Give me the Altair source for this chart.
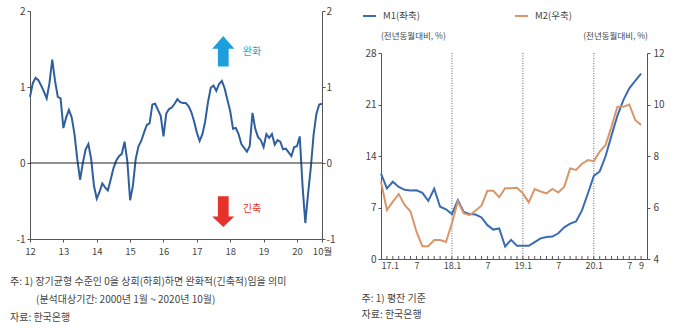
import altair as alt
import pandas as pd

FONT = "Noto Sans CJK KR"
TXT = "#444444"
AX = "#555555"

# ---------------- Left panel: index, monthly 2012.1 ~ 2020.10 ----------------
idx_values = [
    0.87, 1.05, 1.12, 1.09, 1.02, 0.94, 0.85, 1.05, 1.36, 1.08, 0.87, 0.85,
    0.46, 0.60, 0.70, 0.60, 0.38, 0.05, -0.22, 0.00, 0.18, 0.25, 0.05, -0.30,
    -0.47, -0.38, -0.27, -0.32, -0.36, -0.22, -0.07, 0.03, 0.09, 0.12, 0.28, 0.02,
    -0.49, -0.30, 0.05, 0.22, 0.29, 0.40, 0.50, 0.52, 0.77, 0.78, 0.70, 0.62,
    0.35, 0.65, 0.71, 0.73, 0.78, 0.84, 0.80, 0.79, 0.79, 0.75, 0.67, 0.55,
    0.40, 0.29, 0.38, 0.55, 0.80, 0.99, 1.02, 0.95, 1.04, 1.08, 0.98, 0.83,
    0.68, 0.45, 0.46, 0.38, 0.25, 0.20, 0.15, 0.22, 0.66, 0.45, 0.34, 0.30,
    0.21, 0.38, 0.33, 0.38, 0.24, 0.30, 0.28, 0.18, 0.19, 0.14, 0.09, 0.21,
    0.22, 0.35, -0.30, -0.79, -0.40, -0.05, 0.38, 0.65, 0.77, 0.78,
]
idx_tick_pos = [0, 12, 24, 36, 48, 60, 72, 84, 96, 105]
idx_tick_labels = ["12", "13", "14", "15", "16", "17", "18", "19", "20", "10월"]
idx_y_ticks = [-1, 0, 1, 2]
up_label, down_label = "완화", "긴축"
arrow_x = 69.5
up_arrow_y, down_arrow_y = 1.47, -0.64
label_x = 76.5
up_label_y, down_label_y = 1.46, -0.61
notes_left = [
    "주: 1) 장기균형 수준인 0을 상회(하회)하면 완화적(긴축적)임을 의미",
    "(분석대상기간: 2000년 1월 ~ 2020년 10월)",
    "자료: 한국은행",
]

# ---------------- Right panel: M1 / M2, monthly 2017.1 ~ 2020.9 ----------------
m1_values = [
    11.6, 9.6, 10.5, 9.8, 9.4, 9.3, 9.35, 9.0, 7.9, 9.55, 7.1, 6.75,
    6.1, 8.0, 6.4, 6.1, 6.05, 5.65, 4.6, 4.0, 4.15, 1.7, 2.6, 1.8,
    1.8, 1.8, 2.3, 2.8, 3.0, 3.05, 3.5, 4.3, 4.8, 5.1, 6.6, 8.9,
    11.3, 11.9, 14.0, 16.8, 19.5, 21.6, 23.2, 24.2, 25.2,
]
m2_values = [
    7.0, 5.9, 6.23, 6.52, 6.1, 5.84, 5.06, 4.5, 4.5, 4.74, 4.74, 4.66,
    5.39, 6.23, 5.77, 5.7, 5.88, 6.07, 6.65, 6.65, 6.4, 6.75, 6.75, 6.77,
    6.55, 6.2, 6.72, 6.62, 6.55, 6.72, 6.58, 6.81, 7.52, 7.46, 7.7, 7.84,
    7.8, 8.17, 8.43, 9.14, 9.91, 9.91, 10.0, 9.4, 9.2,
]
money_tick_pos = [0, 6, 12, 18, 24, 30, 36, 42, 44]
money_tick_labels = ["17.1", "7", "18.1", "7", "19.1", "7", "20.1", "7", "9"]
year_breaks = [12, 24, 36]
m1_ticks = [0, 7, 14, 21, 28]
m2_ticks = [4, 6, 8, 10, 12]
series_names = ["M1(좌축)", "M2(우축)"]
axis_unit = "(전년동월대비, %)"
notes_right = ["주: 1) 평잔 기준", "자료: 한국은행"]

C_IDX = "#2f5f9c"
C_M1 = "#3a6cb3"
C_M2 = "#d8976a"
C_UP = "#1c9fdc"
C_DOWN = "#e6322a"


def label_expr(pos, labels):
    expr = "''"
    for p, l in reversed(list(zip(pos, labels))):
        expr = f"datum.value == {p} ? '{l}' : ({expr})"
    return expr


def text_layer(text, x, y, size=10, color=TXT, align="left"):
    return alt.Chart(pd.DataFrame({"t": [text]})).mark_text(
        align=align, baseline="middle", font=FONT, fontSize=size, color=color
    ).encode(text="t:N", x=alt.value(x), y=alt.value(y))


# ======================= LEFT PANEL =======================
W1, H1 = 292, 228
df_idx = pd.DataFrame({"i": list(range(len(idx_values))), "v": idx_values})

x_l = alt.X(
    "i:Q",
    scale=alt.Scale(domain=[0, 105], nice=False, zero=False),
    axis=alt.Axis(
        values=idx_tick_pos, labelExpr=label_expr(idx_tick_pos, idx_tick_labels),
        title=None, grid=False, domainColor=AX, tickColor=AX, tickSize=3,
        labelFont=FONT, labelFontSize=9.5, labelColor=TXT, labelPadding=4.5,
        labelOverlap=False, labelFlush=False,
    ),
)
yl_scale = alt.Scale(domain=[-1, 2], nice=False, zero=False)


def y_axis(orient, pad, values):
    return alt.Axis(
        orient=orient, values=values, title=None, grid=False,
        domainColor=AX, tickColor=AX, tickSize=3, labelExpr="toString(datum.value)",
        labelFont=FONT, labelFontSize=10, labelColor=TXT, labelPadding=pad,
        labelOverlap=False,
    )


y_l = alt.Y("v:Q", scale=yl_scale, axis=y_axis("left", 2, idx_y_ticks))

idx_line = alt.Chart(df_idx).mark_line(color=C_IDX, strokeWidth=2).encode(x=x_l, y=y_l)

UP_PATH = "M -0.34 0.97 L -0.34 -0.16 L -0.7 -0.16 L 0 -0.97 L 0.7 -0.16 L 0.34 -0.16 L 0.34 0.97 Z"
DOWN_PATH = "M -0.34 -0.97 L -0.34 0.3 L -0.7 0.3 L 0 0.97 L 0.7 0.3 L 0.34 0.3 L 0.34 -0.97 Z"

up_arrow = alt.Chart(pd.DataFrame({"i": [arrow_x], "v": [up_arrow_y]})).mark_point(
    shape=UP_PATH, size=1000, filled=True, color=C_UP, opacity=1, strokeWidth=0
).encode(x=x_l, y=y_l)
down_arrow = alt.Chart(pd.DataFrame({"i": [arrow_x], "v": [down_arrow_y]})).mark_point(
    shape=DOWN_PATH, size=1000, filled=True, color=C_DOWN, opacity=1, strokeWidth=0
).encode(x=x_l, y=y_l)
up_text = alt.Chart(pd.DataFrame({"i": [label_x], "v": [up_label_y], "t": [up_label]})).mark_text(
    align="left", baseline="middle", font=FONT, fontSize=10, color=C_UP
).encode(x=x_l, y=y_l, text="t:N")
down_text = alt.Chart(pd.DataFrame({"i": [label_x], "v": [down_label_y], "t": [down_label]})).mark_text(
    align="left", baseline="middle", font=FONT, fontSize=10, color=C_DOWN
).encode(x=x_l, y=y_l, text="t:N")

anchor = alt.Chart(pd.DataFrame({"a": [0]})).mark_rect(opacity=0).encode(
    x=alt.value(-30), x2=alt.value(-29), y=alt.value(-11), y2=alt.value(-10)
)

left_notes = [
    text_layer(notes_left[0], -20, 271),
    text_layer(notes_left[1], 6, 288.5),
    text_layer(notes_left[2], -20, 307),
]

left_inner = alt.layer(anchor, idx_line, up_arrow, down_arrow, up_text, down_text, *left_notes)

zero_rule = alt.Chart(pd.DataFrame({"z": [0]})).mark_rule(color="#222222", strokeWidth=1).encode(
    y=alt.Y("z:Q", scale=yl_scale, axis=y_axis("right", 1, idx_y_ticks))
)

left = alt.layer(left_inner, zero_rule).resolve_scale(y="independent").properties(width=W1, height=H1)

# ======================= RIGHT PANEL =======================
W2, H2, TOP2 = 266, 248, 42
n = len(m1_values)
df_m = pd.DataFrame({"i": list(range(n)), "m1": m1_values, "m2": m2_values})

x_r = alt.X(
    "i:Q",
    scale=alt.Scale(domain=[0, 45], nice=False, zero=False),
    axis=alt.Axis(
        values=money_tick_pos, labelExpr=label_expr(money_tick_pos, money_tick_labels),
        title=None, grid=False, ticks=False, domainColor=AX,
        labelFont=FONT, labelFontSize=9, labelColor=TXT, labelPadding=2,
        labelOverlap=False, labelFlush=False,
        labelAlign={"condition": {"test": "datum.value == 0", "value": "left"}, "value": "center"},
    ),
)
y1 = alt.Y("m1:Q", scale=alt.Scale(domain=[0, 28], range=[H2, TOP2], nice=False, zero=False),
           axis=y_axis("left", 2, m1_ticks))
y2 = alt.Y("m2:Q", scale=alt.Scale(domain=[4, 12], range=[H2, TOP2], nice=False, zero=False),
           axis=y_axis("right", 3, m2_ticks))

m1_line = alt.Chart(df_m).mark_line(color=C_M1, strokeWidth=2).encode(x=x_r, y=y1)
m2_line = alt.Chart(df_m).mark_line(color=C_M2, strokeWidth=2).encode(x=x_r, y=y2)

breaks = alt.Chart(pd.DataFrame({"i": year_breaks})).mark_rule(
    color="#666666", strokeWidth=1, strokeDash=[1, 1.5]
).encode(x=x_r, y=alt.value(TOP2), y2=alt.value(H2))

minor = alt.Chart(pd.DataFrame({"i": list(range(1, n))})).mark_rule(
    color=AX, strokeWidth=1
).encode(x=x_r, y=alt.value(H2), y2=alt.value(H2 - 3))

legend_parts = []
for name, col, x0 in [(series_names[0], C_M1, -18), (series_names[1], C_M2, 134)]:
    legend_parts.append(
        alt.Chart(pd.DataFrame({"a": [0]})).mark_rule(color=col, strokeWidth=2).encode(
            x=alt.value(x0), x2=alt.value(x0 + 13), y=alt.value(5)
        )
    )
    legend_parts.append(text_layer(name, x0 + 20, 5, size=9.5))

unit_titles = [
    text_layer(axis_unit, 0, 25, size=8.5),
    text_layer(axis_unit, 267, 25, size=8.5, align="right"),
]
right_notes = [
    text_layer(notes_right[0], -19.5, 287.5),
    text_layer(notes_right[1], -19.5, 304),
]

right_inner = alt.layer(breaks, minor, m1_line, *legend_parts, *unit_titles, *right_notes)
right = alt.layer(right_inner, m2_line).resolve_scale(y="independent").properties(width=W2, height=H2)

chart = alt.hconcat(left, right, spacing=59, bounds="flush", padding=0).configure_view(stroke=None)

chart.save("out.html", embed_options={"renderer": "svg", "actions": False})
